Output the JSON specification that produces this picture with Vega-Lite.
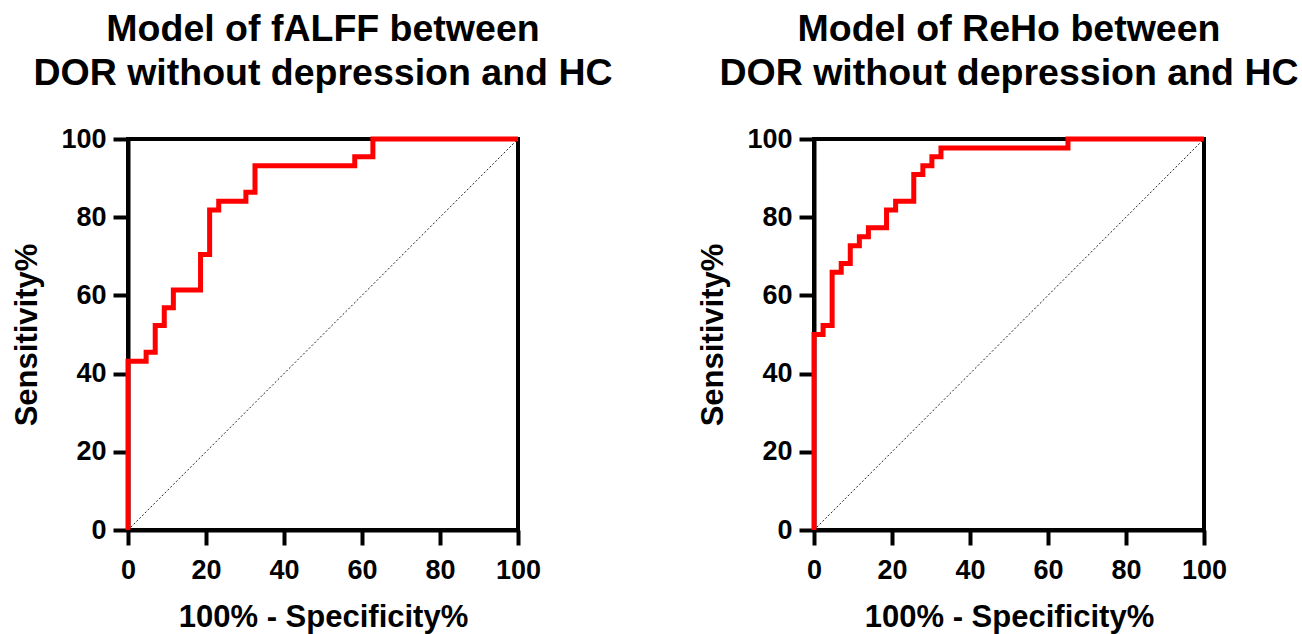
{
  "$schema": "https://vega.github.io/schema/vega-lite/v6.json",
  "padding": {"left": 9, "top": 8, "right": 5, "bottom": 5},
  "background": "white",
  "datasets": {
    "roc": [
      {"panel": "fALFF", "fpr": 0, "sens": 0},
      {"panel": "fALFF", "fpr": 0, "sens": 43.18},
      {"panel": "fALFF", "fpr": 4.65, "sens": 45.45},
      {"panel": "fALFF", "fpr": 6.98, "sens": 52.27},
      {"panel": "fALFF", "fpr": 9.30, "sens": 56.82},
      {"panel": "fALFF", "fpr": 11.63, "sens": 61.36},
      {"panel": "fALFF", "fpr": 18.60, "sens": 70.45},
      {"panel": "fALFF", "fpr": 20.93, "sens": 81.82},
      {"panel": "fALFF", "fpr": 23.26, "sens": 84.09},
      {"panel": "fALFF", "fpr": 30.23, "sens": 86.36},
      {"panel": "fALFF", "fpr": 32.56, "sens": 93.18},
      {"panel": "fALFF", "fpr": 58.14, "sens": 95.45},
      {"panel": "fALFF", "fpr": 62.79, "sens": 100},
      {"panel": "fALFF", "fpr": 100, "sens": 100},
      {"panel": "ReHo", "fpr": 0, "sens": 0},
      {"panel": "ReHo", "fpr": 0, "sens": 50},
      {"panel": "ReHo", "fpr": 2.33, "sens": 52.27},
      {"panel": "ReHo", "fpr": 4.65, "sens": 65.91},
      {"panel": "ReHo", "fpr": 6.98, "sens": 68.18},
      {"panel": "ReHo", "fpr": 9.30, "sens": 72.73},
      {"panel": "ReHo", "fpr": 11.63, "sens": 75.00},
      {"panel": "ReHo", "fpr": 13.95, "sens": 77.27},
      {"panel": "ReHo", "fpr": 18.60, "sens": 81.82},
      {"panel": "ReHo", "fpr": 20.93, "sens": 84.09},
      {"panel": "ReHo", "fpr": 25.58, "sens": 90.91},
      {"panel": "ReHo", "fpr": 27.91, "sens": 93.18},
      {"panel": "ReHo", "fpr": 30.23, "sens": 95.45},
      {"panel": "ReHo", "fpr": 32.56, "sens": 97.73},
      {"panel": "ReHo", "fpr": 65.12, "sens": 100},
      {"panel": "ReHo", "fpr": 100, "sens": 100}
    ],
    "diag": [
      {"fpr": 0, "sens": 0},
      {"fpr": 100, "sens": 100}
    ]
  },
  "config": {
    "font": "Liberation Sans",
    "view": {"stroke": "black", "strokeWidth": 4},
    "concat": {"spacing": 296},
    "axis": {
      "domainColor": "black",
      "domainWidth": 4,
      "tickColor": "black",
      "tickWidth": 4,
      "tickSize": 15,
      "grid": false,
      "labelFlush": false,
      "labelOverlap": false,
      "labelFont": "Liberation Sans",
      "labelFontWeight": "bold",
      "labelFontSize": 27,
      "labelColor": "black",
      "titleFont": "Liberation Sans",
      "titleFontWeight": "bold",
      "titleFontSize": 31,
      "titleColor": "black"
    },
    "title": {
      "font": "Liberation Sans",
      "fontWeight": "bold",
      "fontSize": 37.5,
      "color": "black",
      "anchor": "middle",
      "lineHeight": 44,
      "offset": 33
    }
  },
  "bounds": "flush",
  "hconcat": [
    {
      "width": 390,
      "height": 391,
      "title": {"text": ["Model of fALFF between", "DOR without depression and HC"]},
      "layer": [
        {
          "data": {"name": "diag"},
          "mark": {"type": "line", "color": "#222222", "strokeWidth": 1, "strokeDash": [2, 2]},
          "encoding": {
            "x": {"field": "fpr", "type": "quantitative", "scale": {"domain": [0, 100], "nice": false}},
            "y": {"field": "sens", "type": "quantitative", "scale": {"domain": [0, 100], "nice": false}}
          }
        },
        {
          "data": {"name": "roc"},
          "transform": [{"filter": "datum.panel === 'fALFF'"}],
          "mark": {"type": "line", "color": "#ff0000", "strokeWidth": 5, "interpolate": "step-after", "strokeJoin": "miter", "clip": false},
          "encoding": {
            "x": {"field": "fpr", "type": "quantitative", "scale": {"domain": [0, 100], "nice": false},
              "axis": {"values": [0, 20, 40, 60, 80, 100], "title": "100% - Specificity%", "labelPadding": 12, "titlePadding": 19}},
            "y": {"field": "sens", "type": "quantitative", "scale": {"domain": [0, 100], "nice": false},
              "axis": {"values": [0, 20, 40, 60, 80, 100], "title": "Sensitivity%", "labelPadding": 7, "titlePadding": 17}}
          }
        }
      ]
    },
    {
      "width": 390,
      "height": 391,
      "title": {"text": ["Model of ReHo between", "DOR without depression and HC"]},
      "layer": [
        {
          "data": {"name": "diag"},
          "mark": {"type": "line", "color": "#222222", "strokeWidth": 1, "strokeDash": [2, 2]},
          "encoding": {
            "x": {"field": "fpr", "type": "quantitative", "scale": {"domain": [0, 100], "nice": false}},
            "y": {"field": "sens", "type": "quantitative", "scale": {"domain": [0, 100], "nice": false}}
          }
        },
        {
          "data": {"name": "roc"},
          "transform": [{"filter": "datum.panel === 'ReHo'"}],
          "mark": {"type": "line", "color": "#ff0000", "strokeWidth": 5, "interpolate": "step-after", "strokeJoin": "miter", "clip": false},
          "encoding": {
            "x": {"field": "fpr", "type": "quantitative", "scale": {"domain": [0, 100], "nice": false},
              "axis": {"values": [0, 20, 40, 60, 80, 100], "title": "100% - Specificity%", "labelPadding": 12, "titlePadding": 19}},
            "y": {"field": "sens", "type": "quantitative", "scale": {"domain": [0, 100], "nice": false},
              "axis": {"values": [0, 20, 40, 60, 80, 100], "title": "Sensitivity%", "labelPadding": 7, "titlePadding": 17}}
          }
        }
      ]
    }
  ]
}
